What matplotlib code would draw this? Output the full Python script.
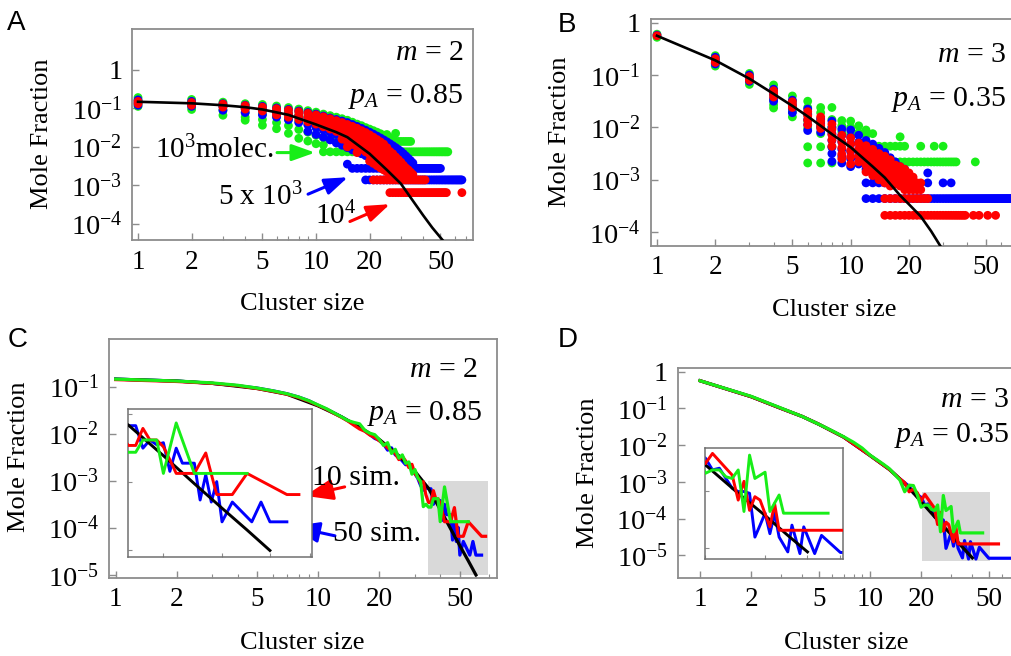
import numpy as np
import matplotlib
matplotlib.use('Agg')
import matplotlib.pyplot as plt
from matplotlib.patches import Rectangle
from matplotlib.ticker import FixedLocator, NullFormatter

plt.rcParams['font.family'] = 'Liberation Serif'
plt.rcParams['mathtext.fontset'] = 'custom'
plt.rcParams['mathtext.rm'] = 'Liberation Serif'
plt.rcParams['mathtext.it'] = 'Liberation Serif:italic'
plt.rcParams['mathtext.bf'] = 'Liberation Serif:bold'

GREEN = '#18ee18'
BLUE = '#0000ff'
RED = '#ff0000'
FRAME = '#8c8c8c'

# ---------------- data (all y values are log10 of mole fraction) ----------------
# panel A: m = 2, pA = 0.85 ; columns {cluster size: [log10 y, ...]}
a_theory_n = [1, 2, 3, 4, 5, 7, 10, 13, 15, 20, 25, 30, 35, 40, 45, 52]
a_theory_y = [-0.83, -0.87, -0.92, -0.97, -1.03, -1.17, -1.42, -1.62, -1.75, -2.18,
              -2.60, -2.96, -3.40, -3.78, -4.10, -4.45]
a_green = {1: [-0.72, -0.80, -0.88, -0.95], 2: [-0.77, -0.85, -0.93, -1.03],
           3: [-0.84, -0.94, -1.05, -1.18], 4: [-0.88, -0.99, -1.11, -1.23, -1.31],
           5: [-0.90, -1.02, -1.15, -1.29, -1.44], 6: [-0.94, -1.07, -1.21, -1.37, -1.53],
           7: [-0.98, -1.12, -1.28, -1.45, -1.65], 8: [-1.02, -1.17, -1.34, -1.55, -1.78],
           9: [-1.06, -1.22, -1.40, -1.62, -1.85], 10: [-1.10, -1.28, -1.48, -1.70, -1.92],
           11: [-1.15, -1.33, -1.55, -1.75, -1.95], 12: [-1.19, -1.38, -1.60, -1.80],
           13: [-1.23, -1.43, -1.65, -1.85], 14: [-1.27, -1.48, -1.70],
           15: [-1.31, -1.52, -1.74], 16: [-1.36, -1.56, -1.78], 17: [-1.41, -1.60, -1.82],
           18: [-1.45, -1.64, -1.85], 19: [-1.50, -1.68], 20: [-1.54, -1.72],
           21: [-1.58, -1.76], 22: [-1.62], 23: [-1.66], 24: [-1.70], 25: [-1.68],
           26: [-1.76], 27: [-1.80], 28: [-1.65]}
a_green_rows = [(-1.86, 20, 34), (-2.13, 11, 55)]   # (log10 y, first size, last size)
a_blue = {1: [-0.78, -0.85, -0.92], 2: [-0.82, -0.88, -0.95], 3: [-0.88, -0.96, -1.05],
          4: [-0.92, -1.01, -1.11], 5: [-0.95, -1.05, -1.17], 6: [-0.99, -1.10, -1.23],
          7: [-1.03, -1.15, -1.30], 8: [-1.07, -1.20, -1.37], 9: [-1.11, -1.25, -1.43, -1.60],
          10: [-1.15, -1.30, -1.50, -1.68], 11: [-1.20, -1.36, -1.56, -1.75],
          12: [-1.25, -1.42, -1.62, -1.82], 13: [-1.29, -1.47, -1.68, -1.90],
          14: [-1.33, -1.52, -1.74, -1.96], 15: [-1.37, -1.57, -1.80, -2.02, -2.45],
          16: [-1.42, -1.62, -1.85, -2.08], 17: [-1.47, -1.67, -1.90, -2.13],
          18: [-1.52, -1.72, -1.95, -2.18], 19: [-1.57, -1.77, -2.00, -2.23],
          20: [-1.62, -1.82, -2.05, -2.28], 21: [-1.67, -1.87, -2.10, -2.33],
          22: [-1.72, -1.92, -2.15, -2.38], 23: [-1.77, -1.97, -2.20, -2.42],
          24: [-1.82, -2.02, -2.25, -2.46], 25: [-1.87, -2.07, -2.30], 26: [-1.92, -2.12, -2.35],
          27: [-1.97, -2.17, -2.40], 28: [-2.02, -2.22, -2.44], 29: [-2.07, -2.27],
          30: [-2.12, -2.32], 31: [-2.18, -2.38], 32: [-2.24, -2.42], 33: [-2.30],
          34: [-2.36], 35: [-2.42]}
a_blue_rows = [(-2.56, 16, 50), (-2.86, 19, 66)]
a_red = {1: [-0.82, -0.88], 2: [-0.85, -0.92], 3: [-0.89, -0.97], 4: [-0.93, -1.02],
         5: [-0.97, -1.07], 6: [-1.01, -1.10, -1.17], 7: [-1.05, -1.15, -1.23],
         8: [-1.09, -1.19, -1.29], 9: [-1.13, -1.24, -1.35], 10: [-1.17, -1.29, -1.41],
         11: [-1.22, -1.35, -1.48], 12: [-1.27, -1.40, -1.54], 13: [-1.32, -1.46, -1.60],
         14: [-1.37, -1.51, -1.66, -1.80], 15: [-1.42, -1.57, -1.72, -1.87, -2.00],
         16: [-1.47, -1.62, -1.78, -1.94], 17: [-1.52, -1.68, -1.84, -2.00, -2.15],
         18: [-1.58, -1.74, -1.90, -2.06], 19: [-1.63, -1.80, -1.96, -2.13],
         20: [-1.69, -1.86, -2.03, -2.20, -2.37], 21: [-1.75, -1.92, -2.09, -2.26, -2.43],
         22: [-1.81, -1.98, -2.15, -2.32, -2.49], 23: [-1.87, -2.04, -2.21, -2.38, -2.55],
         24: [-1.93, -2.10, -2.27, -2.44, -2.60], 25: [-2.02, -2.18, -2.34, -2.50, -2.65],
         26: [-2.12, -2.27, -2.42, -2.57, -2.70], 27: [-2.18, -2.33, -2.48, -2.62, -2.74],
         28: [-2.26, -2.40, -2.54, -2.67, -2.78], 29: [-2.33, -2.46, -2.59, -2.72],
         30: [-2.40, -2.52, -2.64, -2.76], 31: [-2.48, -2.60, -2.72], 32: [-2.55, -2.66, -2.76],
         33: [-2.60, -2.72], 34: [-2.66, -2.76], 35: [-2.72], 66: [-3.19]}
a_red_rows = [(-2.86, 21, 41), (-3.19, 26, 54)]

# panel B: m = 3, pA = 0.35
b_theory_n = [1, 2, 3, 4, 5, 6, 7, 8, 10, 13, 15, 18, 20, 23, 26, 30]
b_theory_y = [-0.25, -0.72, -1.07, -1.36, -1.59, -1.79, -1.97, -2.13, -2.38, -2.75,
              -2.96, -3.30, -3.47, -3.70, -3.98, -4.35]
b_green = {1: [-0.22, -0.28], 2: [-0.63, -0.70, -0.77, -0.83], 3: [-0.97, -1.04, -1.11, -1.18],
           4: [-1.19, -1.28, -1.38, -1.48, -1.57, -1.63], 5: [-1.40, -1.50, -1.60, -1.70, -1.80],
           6: [-1.50, -1.62, -1.75, -1.88, -2.02, -2.37, -2.68],
           7: [-1.62, -1.72, -1.85, -1.98, -2.12, -2.37, -2.68],
           8: [-1.62, -1.85, -2.00, -2.37, -2.68], 9: [-1.87, -1.97, -2.08],
           10: [-1.88, -2.00, -2.12], 11: [-1.97, -2.10], 12: [-2.05, -2.15],
           13: [-2.12], 18: [-2.18], 23: [-2.36], 27: [-2.36], 30: [-2.36], 44: [-2.66]}
b_green_rows = [(-2.36, 13, 19), (-2.66, 17, 35)]
b_blue = {1: [-0.24], 2: [-0.66, -0.72, -0.79], 3: [-1.00, -1.06, -1.12],
          4: [-1.27, -1.36, -1.45, -1.50], 5: [-1.48, -1.56, -1.64, -1.72],
          6: [-1.65, -1.75, -1.85, -1.95, -2.06], 7: [-1.84, -1.92, -2.00, -2.09],
          8: [-1.88, -2.00, -2.12, -2.25, -2.38, -2.50, -2.65],
          9: [-2.03, -2.15, -2.28, -2.42, -2.55, -2.68],
          10: [-2.05, -2.18, -2.32, -2.46, -2.60, -2.75], 11: [-2.15, -2.28, -2.42, -2.56, -2.70],
          12: [-2.25, -2.38, -2.52, -2.66, -2.80], 13: [-2.32, -2.46, -2.60, -2.74, -2.88],
          14: [-2.40, -2.54, -2.68, -2.82, -2.95], 15: [-2.48, -2.62, -2.76, -2.90],
          16: [-2.58, -2.72, -2.86, -2.98], 17: [-2.66, -2.80, -2.95], 18: [-2.75, -2.90],
          19: [-2.80, -2.95], 25: [-2.87, -3.06], 30: [-3.06], 33: [-3.06]}
b_blue_rows = [(-3.06, 12, 20), (-3.36, 12, 75)]
b_red = {1: [-0.25], 2: [-0.69, -0.76], 3: [-1.03, -1.10], 4: [-1.30, -1.36, -1.42],
         5: [-1.51, -1.57, -1.62], 6: [-1.70, -1.78, -1.86, -1.95], 7: [-1.80, -1.88, -1.96, -2.02],
         8: [-1.94, -2.04, -2.14, -2.24, -2.36], 9: [-2.15, -2.27, -2.39, -2.51, -2.60],
         10: [-2.20, -2.32, -2.44, -2.56, -2.70], 11: [-2.30, -2.42, -2.54, -2.66],
         12: [-2.35, -2.48, -2.60, -2.72, -2.85], 13: [-2.42, -2.55, -2.68, -2.80, -2.92],
         14: [-2.50, -2.62, -2.75, -2.88, -3.00], 15: [-2.55, -2.68, -2.80, -2.92, -3.06],
         16: [-2.62, -2.75, -2.88, -3.00, -3.12], 17: [-2.72, -2.84, -2.96, -3.08],
         18: [-2.75, -2.88, -3.00, -3.12], 19: [-2.80, -2.93, -3.06, -3.19],
         20: [-2.87, -3.00, -3.12, -3.19], 21: [-2.95, -3.06, -3.19], 22: [-3.06, -3.19],
         23: [-3.06, -3.19], 43: [-3.68], 46: [-3.68], 51: [-3.68], 56: [-3.68]}
b_red_rows = [(-3.36, 15, 25), (-3.68, 15, 39)]

# panel C: m = 2, pA = 0.85, averaged simulation curves
c_theory_n = [1, 2, 3, 5, 7, 10, 13, 16, 20, 25, 30, 35, 40, 45, 50, 55, 60]
c_theory_y = [-0.84, -0.88, -0.93, -1.04, -1.16, -1.41, -1.64, -1.86, -2.12, -2.47,
              -2.80, -3.16, -3.61, -4.02, -4.38, -4.70, -5.00]
c_green_n = [1, 2, 3, 4, 5, 6, 7, 8, 9, 10, 11, 12, 13, 14, 15, 16, 17, 18, 19, 20, 21, 22,
             23, 24, 25, 26, 27, 28, 29, 30, 31, 32, 33, 34, 35, 36, 37, 39, 40, 42, 45, 55]
c_green_y = [-0.84, -0.88, -0.92, -0.97, -1.03, -1.09, -1.15, -1.22, -1.30, -1.39, -1.47,
             -1.56, -1.64, -1.72, -1.76, -1.79, -1.93, -1.99, -2.02, -2.12, -2.25, -2.19,
             -2.42, -2.33, -2.52, -2.45, -2.63, -2.60, -2.86, -2.76, -2.94, -3.01, -3.55,
             -3.50, -3.56, -3.56, -3.38, -3.38, -3.87, -3.13, -3.87, -3.87]
c_red_n = [1, 2, 3, 4, 5, 6, 7, 8, 9, 10, 11, 12, 13, 14, 15, 16, 17, 18, 19, 20, 21, 22,
           23, 24, 25, 26, 27, 28, 29, 30, 31, 32, 33, 34, 35, 36, 37, 38, 39, 40, 41, 42,
           45, 47, 49, 52, 55, 64, 67]
c_red_y = [-0.85, -0.89, -0.93, -0.98, -1.04, -1.10, -1.16, -1.23, -1.31, -1.40, -1.48,
           -1.57, -1.65, -1.73, -1.82, -1.90, -1.95, -2.03, -2.08, -2.15, -2.22, -2.30,
           -2.36, -2.42, -2.55, -2.48, -2.58, -2.72, -2.65, -2.85, -2.92, -3.05, -3.02,
           -3.30, -3.46, -3.46, -3.21, -3.38, -3.38, -3.48, -3.67, -3.87, -3.87, -3.57,
           -4.18, -4.18, -3.87, -4.18, -4.18]
c_blue_n = [1, 2, 3, 4, 5, 6, 7, 8, 9, 10, 11, 12, 13, 14, 15, 16, 17, 18, 19, 20, 21, 22,
            23, 24, 25, 26, 27, 28, 29, 30, 31, 32, 33, 34, 35, 36, 37, 38, 39, 40, 41, 42,
            43, 45, 46, 47, 48, 49, 50, 52, 56, 58, 60, 64]
c_blue_y = [-0.84, -0.88, -0.93, -0.98, -1.03, -1.09, -1.15, -1.22, -1.30, -1.40, -1.48,
            -1.56, -1.64, -1.72, -1.80, -1.86, -1.94, -2.02, -2.10, -2.14, -2.22, -2.35,
            -2.30, -2.45, -2.50, -2.58, -2.66, -2.62, -2.80, -2.85, -2.95, -3.10, -3.20,
            -3.15, -3.17, -3.17, -3.50, -3.38, -3.45, -3.42, -3.84, -3.50, -3.72, -3.72,
            -4.26, -3.89, -4.29, -3.99, -4.58, -4.29, -4.58, -4.29, -4.58, -4.58]

# panel D: m = 3, pA = 0.35
d_theory_n = [1, 2, 3, 4, 5, 7, 10, 13, 15, 17, 20, 25, 30, 35, 40]
d_theory_y = [-0.245, -0.68, -1.00, -1.22, -1.43, -1.78, -2.28, -2.66, -2.92, -3.17,
              -3.54, -4.04, -4.43, -4.78, -5.07]
d_green_n = [1, 2, 3, 4, 5, 6, 7, 8, 9, 10, 11, 12, 13, 14, 15, 16, 17, 18, 19, 20, 21, 22,
             23, 24, 25, 26, 27, 28, 30, 31, 33, 34, 46]
d_green_y = [-0.245, -0.67, -0.99, -1.22, -1.43, -1.61, -1.77, -1.92, -2.08, -2.27, -2.40,
             -2.52, -2.64, -2.80, -2.95, -3.27, -3.09, -3.10, -3.36, -3.69, -3.63, -3.63,
             -3.75, -3.78, -3.63, -4.36, -3.37, -3.78, -3.67, -4.36, -4.07, -4.39, -4.39]
d_red_n = [1, 2, 3, 4, 5, 7, 10, 13, 15, 16, 17, 18, 19, 20, 21, 23, 24, 25, 26, 27, 28,
           29, 31, 32, 33, 57]
d_red_y = [-0.245, -0.68, -1.00, -1.22, -1.43, -1.78, -2.28, -2.66, -2.92, -3.02, -3.27,
           -3.20, -3.30, -3.52, -3.34, -3.60, -3.72, -4.16, -3.83, -4.34, -4.10, -4.16,
           -4.63, -4.22, -4.69, -4.69]
d_blue_n = [1, 2, 3, 4, 5, 7, 10, 13, 15, 17, 18, 19, 20, 21, 22, 24, 25, 26, 27, 28, 29,
            30, 31, 32, 33, 35, 36, 38, 39, 42, 44, 50, 80]
d_blue_y = [-0.245, -0.68, -1.00, -1.22, -1.43, -1.78, -2.28, -2.66, -2.92, -3.12, -3.30,
            -3.35, -3.42, -3.63, -3.60, -3.95, -4.01, -4.01, -4.04, -4.81, -4.60, -4.39,
            -4.75, -4.39, -4.81, -5.07, -4.60, -5.10, -4.63, -5.10, -4.78, -5.08, -5.08]

x_major = [1, 2, 5, 10, 20, 50]
x_minor = [3, 4, 6, 7, 8, 9, 30, 40, 60, 70]


def px_axes(l, t, r, b):
    # pixel box of the 1011x656 picture -> figure fraction
    return [l / 1011, 1 - b / 656, (r - l) / 1011, (b - t) / 656]


def setup(ax, xlim, ylim, yexps):
    ax.set_xscale('log')
    ax.set_yscale('log')
    ax.set_xlim(*xlim)
    ax.set_ylim(10.0 ** ylim[0], 10.0 ** ylim[1])
    ax.xaxis.set_major_locator(FixedLocator(x_major))
    ax.set_xticklabels([str(v) for v in x_major])
    ax.xaxis.set_minor_locator(FixedLocator(x_minor))
    ax.xaxis.set_minor_formatter(NullFormatter())
    ax.yaxis.set_major_locator(FixedLocator([10.0 ** e for e in yexps]))
    ax.set_yticklabels(['1' if e == 0 else r'$10^{%d}$' % e for e in yexps])
    ax.yaxis.set_minor_locator(FixedLocator([]))
    ax.tick_params(which='both', direction='in', color=FRAME, pad=7)
    ax.tick_params(axis='x', labelsize=19.5)
    ax.tick_params(axis='y', labelsize=20.5)
    ax.tick_params(which='major', length=5, width=1)
    ax.tick_params(which='minor', length=3, width=0.8)
    for s in ax.spines.values():
        s.set_color(FRAME)
        s.set_linewidth(1.3)


def labels(ax, xl, yl):
    ax.set_xlabel('Cluster size', fontsize=19, va='center')
    ax.xaxis.set_label_coords(*xl)
    ax.set_ylabel('Mole Fraction', fontsize=19, va='center')
    ax.yaxis.set_label_coords(*yl)


def draw_columns(ax, cols, rows, color, z):
    xs, ys = [], []
    for n, vals in cols.items():
        xs += [n] * len(vals)
        ys += vals
    for y, n0, n1 in rows:
        for n in range(n0, n1 + 1):
            xs.append(n)
            ys.append(y)
    ax.scatter(xs, 10.0 ** np.array(ys), s=40, color=color, edgecolors='none', zorder=z)


def arrow(ax, start, end, color, hl=0.7, hw=0.25):
    ax.annotate('', xy=(end[0], 10.0 ** end[1]), xytext=(start[0], 10.0 ** start[1]),
                arrowprops=dict(arrowstyle='-|>,head_length=%g,head_width=%g' % (hl, hw),
                                color=color, lw=2.2, mutation_scale=20,
                                shrinkA=0, shrinkB=0), zorder=8)


fig = plt.figure(figsize=(10.11, 6.56), dpi=100)

# ---------------- A ----------------
axA = fig.add_axes(px_axes(132, 29, 473, 240))
setup(axA, (0.925, 76.2), (-4.42, 1.06), [0, -1, -2, -3, -4])
draw_columns(axA, a_green, a_green_rows, GREEN, 2)
draw_columns(axA, a_blue, a_blue_rows, BLUE, 3)
draw_columns(axA, a_red, a_red_rows, RED, 4)
axA.plot(a_theory_n, 10.0 ** np.array(a_theory_y), color='k', lw=1.9, zorder=5)
labels(axA, (0.5, -0.303), (-0.264, 0.502))
axA.text(0.971, 0.853, r'$m$ = 2', transform=axA.transAxes, ha='right', va='baseline', fontsize=21.5)
axA.text(0.971, 0.648, r'$p_A$ = 0.85', transform=axA.transAxes, ha='right', va='baseline', fontsize=21.5)
axA.text(1.246, 10 ** -2.31, r'$10^{3}$molec.', ha='left', va='baseline', fontsize=21, zorder=9)
axA.text(2.82, 10 ** -3.52, r'5 x $10^{3}$', ha='left', va='baseline', fontsize=21, zorder=9)
axA.text(9.87, 10 ** -4.01, r'$10^{4}$', ha='left', va='baseline', fontsize=21, zorder=9)
arrow(axA, (6.04, -2.15), (9.87, -2.15), GREEN)
arrow(axA, (9.02, -3.23), (15.1, -2.79), BLUE)
arrow(axA, (15.5, -3.94), (26.0, -3.49), RED)

# ---------------- B ----------------
axB = fig.add_axes(px_axes(650.7, 19, 1021.5, 245.7))
setup(axB, (0.928, 76.2), (-4.26, 0.07), [0, -1, -2, -3, -4])
draw_columns(axB, b_green, b_green_rows, GREEN, 2)
draw_columns(axB, b_blue, b_blue_rows, BLUE, 3)
draw_columns(axB, b_red, b_red_rows, RED, 4)
axB.plot(b_theory_n, 10.0 ** np.array(b_theory_y), color='k', lw=1.9, zorder=5)
labels(axB, (0.494, -0.284), (-0.245, 0.503))
axB.text(0.958, 0.809, r'$m$ = 3', transform=axB.transAxes, ha='right', va='baseline', fontsize=21.5)
axB.text(0.958, 0.616, r'$p_A$ = 0.35', transform=axB.transAxes, ha='right', va='baseline', fontsize=21.5)

# ---------------- C ----------------
axC = fig.add_axes(px_axes(109, 339, 496.7, 577.7))
setup(axC, (0.927, 76.0), (-5.06, 0.013), [-1, -2, -3, -4, -5])
axC.add_patch(Rectangle((35, 1e-5), 69 - 35, 1e-3 - 1e-5, facecolor='#d9d9d9',
                        edgecolor='none', zorder=0))
labels(axC, (0.499, -0.272), (-0.232, 0.507))
axC.text(0.952, 0.84, r'$m$ = 2', transform=axC.transAxes, ha='right', va='baseline', fontsize=21.5)
axC.text(0.962, 0.661, r'$p_A$ = 0.85', transform=axC.transAxes, ha='right', va='baseline', fontsize=21.5)
axC.text(9.31, 10 ** -3.09, '10 sim.', ha='left', va='baseline', fontsize=21.5, zorder=9)
axC.text(11.8, 10 ** -4.29, '50 sim.', ha='left', va='baseline', fontsize=21.5, zorder=9)
arrow(axC, (13.5, -3.13), (8.6, -3.32), RED, hl=0.85, hw=0.32)
arrow(axC, (12.09, -4.17), (7.39, -3.97), BLUE, hl=0.85, hw=0.32)

insC = fig.add_axes(px_axes(128.3, 409.3, 312.3, 557.3))
insC.set_zorder(5)

# ---------------- D ----------------
axD = fig.add_axes(px_axes(677.7, 367.7, 1019.6, 577.7))
setup(axD, (0.739, 75.9), (-5.61, 0.11), [0, -1, -2, -3, -4, -5])
axD.add_patch(Rectangle((20.1, 10 ** -5.155), 50.8 - 20.1, 10 ** -3.28 - 10 ** -5.155,
                        facecolor='#d9d9d9', edgecolor='none', zorder=0))
labels(axD, (0.494, -0.31), (-0.262, 0.501))
axD.text(0.968, 0.811, r'$m$ = 3', transform=axD.transAxes, ha='right', va='baseline', fontsize=21.5)
axD.text(0.968, 0.648, r'$p_A$ = 0.35', transform=axD.transAxes, ha='right', va='baseline', fontsize=21.5)

insD = fig.add_axes(px_axes(705.3, 448.3, 843.3, 559.3))
insD.set_zorder(5)

g = globals()
for ax, series, lw in [(axC, 'c', 2.3), (insC, 'c', 2.1), (axD, 'd', 2.3), (insD, 'd', 2.1)]:
    if ax in (insC, insD):
        ax.set_xscale('log')
        ax.set_yscale('log')
    ax.plot(g[series + '_blue_n'], 10.0 ** np.array(g[series + '_blue_y']), color=BLUE, lw=lw, zorder=2)
    ax.plot(g[series + '_theory_n'], 10.0 ** np.array(g[series + '_theory_y']), color='k', lw=lw, zorder=3)
    ax.plot(g[series + '_red_n'], 10.0 ** np.array(g[series + '_red_y']), color=RED, lw=lw, zorder=4)
    ax.plot(g[series + '_green_n'], 10.0 ** np.array(g[series + '_green_y']), color=GREEN, lw=lw, zorder=5)

for ins, xl, yl, xt, yt in [(insC, (35, 70.5), (-5.1, -2.93), [40, 50, 60, 70], [-3, -4, -5]),
                            (insD, (20, 51), (-5.2, -3.25), [20, 30, 40, 50], [-4, -5])]:
    ins.set_xlim(*xl)
    ins.set_ylim(10.0 ** yl[0], 10.0 ** yl[1])
    ins.xaxis.set_major_locator(FixedLocator(xt))
    ins.xaxis.set_minor_locator(FixedLocator([]))
    ins.yaxis.set_major_locator(FixedLocator([10.0 ** e for e in yt]))
    ins.yaxis.set_minor_locator(FixedLocator([]))
    ins.xaxis.set_major_formatter(NullFormatter())
    ins.yaxis.set_major_formatter(NullFormatter())
    ins.tick_params(direction='in', length=3, color=FRAME)
    for s in ins.spines.values():
        s.set_color('#707070')
        s.set_linewidth(1.1)

# panel letters
for letter, x, y in [('A', 7, 30), ('B', 558, 32), ('C', 8, 347), ('D', 558, 347)]:
    fig.text(x / 1011, 1 - y / 656, letter, fontsize=20, family='Liberation Sans',
             ha='left', va='baseline')

fig.savefig('out.png', dpi=100)
